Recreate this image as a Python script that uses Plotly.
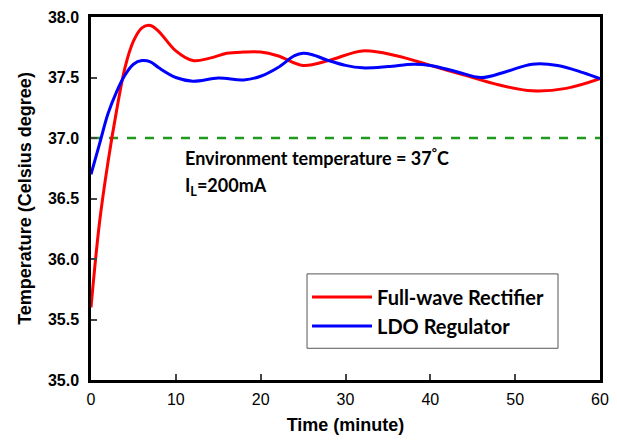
import plotly.graph_objects as go

# Full-wave rectifier (red)
t_red = [0, 1, 2, 3, 4, 5, 6, 7, 8, 10, 12, 14, 16, 18, 20, 22, 25, 28, 32, 36, 40, 44, 48, 52, 56, 60]
v_red = [35.6, 36.3, 36.8, 37.22, 37.58, 37.8, 37.91, 37.93, 37.88, 37.72, 37.64, 37.66, 37.70, 37.71,
         37.71, 37.68, 37.60, 37.64, 37.72, 37.68, 37.60, 37.52, 37.44, 37.39, 37.41, 37.49]

# LDO regulator (blue)
t_blue = [0, 1, 2, 3, 4, 5, 6, 7, 8, 10, 12, 15, 18, 20, 22, 24, 25, 26, 28, 30, 32, 35, 38, 40,
          43, 46, 49, 52, 55, 58, 60]
v_blue = [36.70, 36.95, 37.2, 37.38, 37.52, 37.61, 37.64, 37.63, 37.58, 37.50, 37.47, 37.495, 37.48,
          37.51, 37.58, 37.68, 37.70, 37.69, 37.64, 37.60, 37.58, 37.59, 37.61, 37.60,
          37.55, 37.50, 37.55, 37.61, 37.60, 37.54, 37.49]

env_t = [0, 60]
env_v = [37.0, 37.0]

x_ticks = [0, 10, 20, 30, 40, 50, 60]
y_ticks = [35.0, 35.5, 36.0, 36.5, 37.0, 37.5, 38.0]
y_tick_text = ["35.0", "35.5", "36.0", "36.5", "37.0", "37.5", "38.0"]

fig = go.Figure()
fig.add_trace(go.Scatter(x=env_t, y=env_v, mode="lines", showlegend=False,
                         line=dict(color="#1f9a1f", width=2.5, dash="dash")))
fig.add_trace(go.Scatter(x=t_red, y=v_red, mode="lines", name="<b>Full-wave Rectifier</b>",
                         legendgroup="a",
                         line=dict(color="#ff0000", width=3, shape="spline", smoothing=1.0)))
fig.add_trace(go.Scatter(x=t_blue, y=v_blue, mode="lines", name="<b>LDO Regulator</b>",
                         legendgroup="b",
                         line=dict(color="#0000ff", width=3, shape="spline", smoothing=1.0)))

fig.add_annotation(x=10.9, y=36.845, xref="x", yref="y", xanchor="left", yanchor="middle",
                   text="<b>Environment temperature = 37<sup>°</sup>C</b>", showarrow=False,
                   font=dict(family="Lato", size=18, color="black"))
fig.add_annotation(x=10.9, y=36.60, xref="x", yref="y", xanchor="left", yanchor="middle",
                   text="<b>I<sub>L</sub>=200mA</b>", showarrow=False,
                   font=dict(family="Lato", size=18, color="black"))

# legend frame
fig.add_shape(type="rect", xref="paper", yref="paper", x0=0.4244, x1=0.9175, y0=0.0874, y1=0.2923,
              line=dict(color="#555555", width=1), fillcolor="white", layer="below")

fig.update_layout(
    width=609, height=432,
    margin=dict(l=83, r=17, t=9, b=60),
    paper_bgcolor="white", plot_bgcolor="white",
    font=dict(family="Liberation Sans, Arial", color="black"),
    legend=dict(x=0.4244, y=0.1885, xanchor="left", yanchor="middle",
                bgcolor="rgba(0,0,0,0)", borderwidth=0,
                font=dict(family="Lato", size=20, color="black"),
                itemwidth=60, tracegroupgap=0, traceorder="grouped"),
    xaxis=dict(range=[0, 60], tickvals=x_ticks, ticks="inside", ticklen=6, tickwidth=2,
               showline=True, linecolor="black", linewidth=2.5, mirror=True, showgrid=False,
               zeroline=False, tickfont=dict(size=16, family="Liberation Sans"),
               tickprefix="<b>", ticksuffix="</b>", ticklabelstandoff=3, automargin=False,
               ticklabeloverflow="allow",
               title=dict(text="<b>Time (minute)</b>", font=dict(size=18), standoff=12)),
    yaxis=dict(range=[35.0, 38.0], tickvals=y_ticks, ticktext=["<b>" + s + "</b>" for s in y_tick_text],
               ticks="inside", ticklen=6, tickwidth=2, ticklabelstandoff=6, automargin=False,
               ticklabeloverflow="allow",
               showline=True, linecolor="black", linewidth=2.5, mirror=True, showgrid=False,
               zeroline=False, tickfont=dict(size=16, family="Liberation Sans"),
               title=dict(text="<b>Temperature (Celsius degree)</b>", font=dict(size=18), standoff=12)),
)

fig.write_html("out.html")
